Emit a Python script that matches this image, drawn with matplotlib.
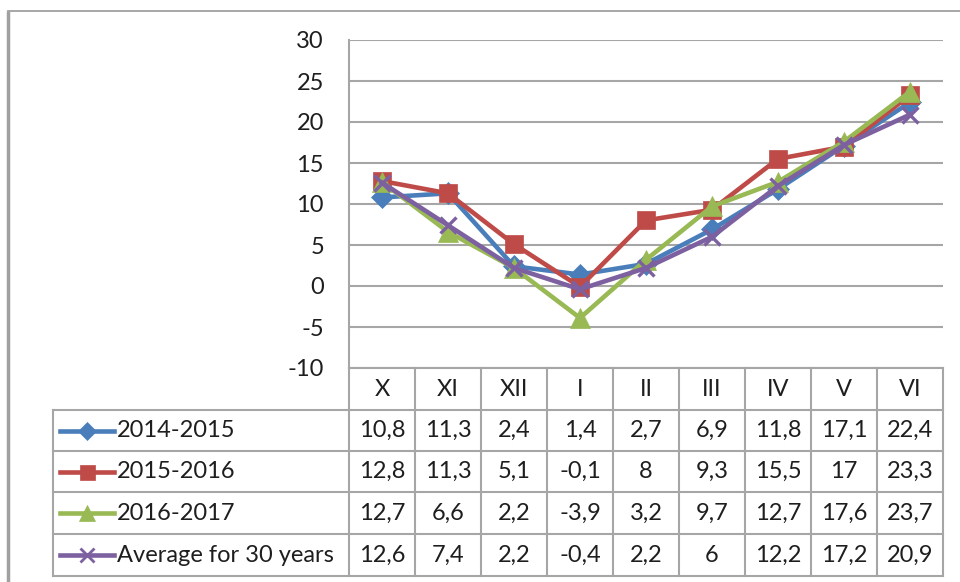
import matplotlib
matplotlib.use("Agg")
import matplotlib.pyplot as plt

# monthly mean air temperature, Oct..Jun
months = ["X", "XI", "XII", "I", "II", "III", "IV", "V", "VI"]
series_names = ["2014-2015", "2015-2016", "2016-2017", "Average for 30 years"]
t_2014_2015 = [10.8, 11.3, 2.4, 1.4, 2.7, 6.9, 11.8, 17.1, 22.4]
t_2015_2016 = [12.8, 11.3, 5.1, -0.1, 8, 9.3, 15.5, 17, 23.3]
t_2016_2017 = [12.7, 6.6, 2.2, -3.9, 3.2, 9.7, 12.7, 17.6, 23.7]
t_average = [12.6, 7.4, 2.2, -0.4, 2.2, 6, 12.2, 17.2, 20.9]
y_ticks = [-10, -5, 0, 5, 10, 15, 20, 25, 30]

all_series = [t_2014_2015, t_2015_2016, t_2016_2017, t_average]
colors = ["#4a7ebb", "#be4b48", "#98b954", "#7d60a0"]
markers = ["D", "s", "^", "x"]
msizes = [11, 13.5, 14, 12]

plt.rcParams["font.family"] = ["Lato", "DejaVu Sans"]
plt.rcParams["axes.unicode_minus"] = False
FS = 17
GRID = "#a6a6a6"
TEXT = "#1e1e1e"

W, H = 960, 582
fig = plt.figure(figsize=(W / 100, H / 100), dpi=100)

# pixel layout
left, right = 349, 943
top, bottom = 40, 368
row_edges = [368, 410, 451, 492, 534, 576]
legend_left = 53


def fmt(v):
    return ("%g" % v).replace(".", ",")


# overlay axes in pixel units for frame and data table
pix = fig.add_axes([0, 0, 1, 1], zorder=0)
pix.set_xlim(0, W)
pix.set_ylim(H, 0)
pix.axis("off")

# outer chart frame
pix.plot([7.5, 7.5], [11, H], color="#a0a0a0", lw=2.5, solid_capstyle="butt")
pix.plot([7.5, W], [11, 11], color="#a0a0a0", lw=1.3)

# plot area
ax = fig.add_axes([left / W, 1 - bottom / H, (right - left) / W, (bottom - top) / H], zorder=2)
ax.patch.set_alpha(0)
x = list(range(len(months)))
for vals, c, m, ms in zip(all_series, colors, markers, msizes):
    ax.plot(x, vals, color=c, lw=3.3, marker=m, markersize=ms,
            markeredgewidth=2.4 if m == "x" else 0.5, markeredgecolor=c,
            solid_joinstyle="round")
ax.set_xlim(-0.5, len(months) - 0.5)
ax.set_ylim(y_ticks[0], y_ticks[-1])
ax.set_yticks(y_ticks)
ax.set_xticks([])
ax.yaxis.grid(True, color=GRID, lw=1.5)
ax.set_axisbelow(True)
for s in ["top", "right", "bottom"]:
    ax.spines[s].set_visible(False)
ax.spines["left"].set_color(GRID)
ax.spines["left"].set_linewidth(1.5)
ax.tick_params(axis="y", length=0, pad=18, labelsize=FS, labelcolor=TEXT)

# data table: header row with month names
col_w = (right - left) / len(months)
line_kw = dict(color=GRID, lw=1.5, solid_capstyle="projecting")
pix.plot([left, right], [row_edges[0]] * 2, **line_kw)
for r in row_edges[1:]:
    pix.plot([legend_left, right], [r, r], **line_kw)
for k in range(len(months) + 1):
    xe = left + k * col_w
    pix.plot([xe, xe], [row_edges[0], row_edges[-1]], **line_kw)
pix.plot([legend_left, legend_left], [row_edges[1], row_edges[-1]], **line_kw)

for k, mth in enumerate(months):
    pix.text(left + (k + 0.5) * col_w, (row_edges[0] + row_edges[1]) / 2, mth,
             ha="center", va="center", fontsize=FS, color=TEXT)

for i, (name, vals, c, m, ms) in enumerate(zip(series_names, all_series, colors, markers, msizes)):
    yc = (row_edges[i + 1] + row_edges[i + 2]) / 2
    pix.plot([60, 114], [yc, yc], color=c, lw=3.3)
    pix.plot([87], [yc], color=c, marker=m, markersize=ms * 0.8,
             markeredgewidth=2 if m == "x" else 0.5, markeredgecolor=c)
    pix.text(117, yc, name, ha="left", va="center", fontsize=FS, color=TEXT)
    for k, v in enumerate(vals):
        pix.text(left + (k + 0.5) * col_w, yc, fmt(v),
                 ha="center", va="center", fontsize=FS, color=TEXT)

fig.savefig("out.png", dpi=100)
